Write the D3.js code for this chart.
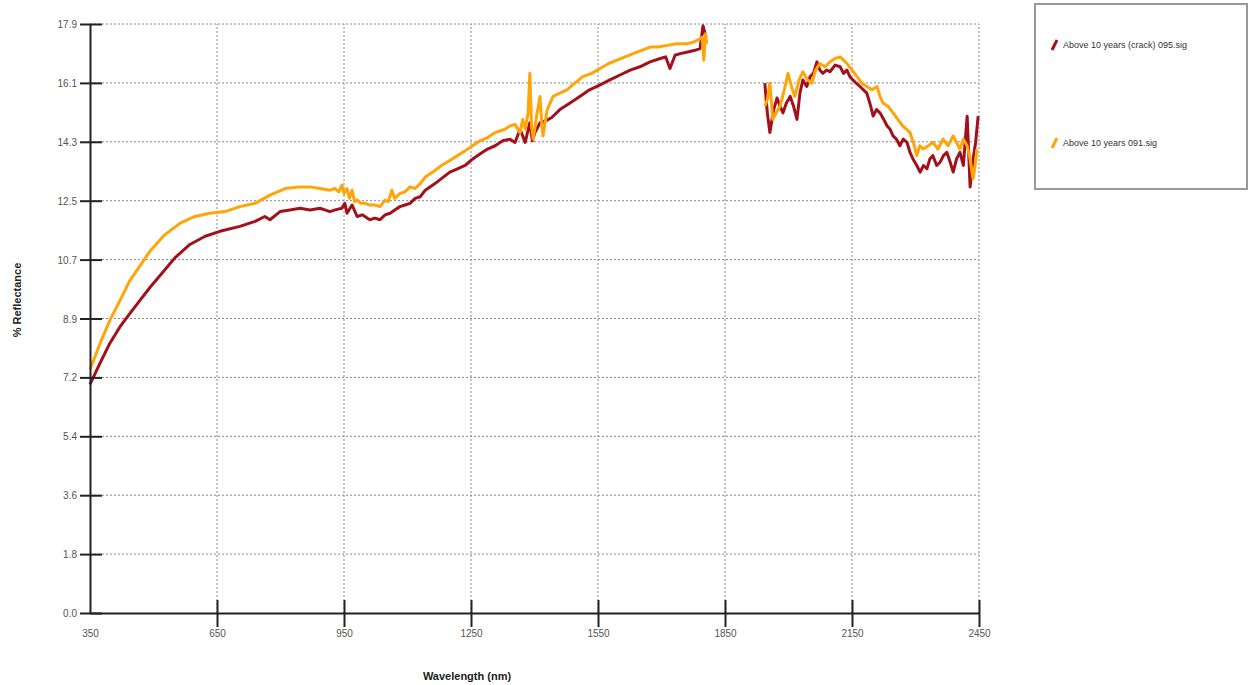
<!DOCTYPE html>
<html lang="en">
<head>
<meta charset="UTF-8">
<title>Reflectance spectra</title>
<script src="https://d3js.org/d3.v7.min.js"></script>
<style>
    body { margin: 0; background: #fff; font-family: "Liberation Sans", Arial, sans-serif; }
    #chart { width: 1251px; height: 685px; }
    .tick-label { font-size: 10px; fill: #555; }
    .grid line { stroke: #888; stroke-dasharray: 2,2; }
</style>
</head>
<body>
<div id="chart"></div>
<script>
    // axis ticks
    const xTicks = [350, 650, 950, 1250, 1550, 1850, 2150, 2450];
    const yTicks = [0.0, 1.79, 3.58, 5.37, 7.16, 8.95, 10.74, 12.53, 14.32, 16.11, 17.9];
    const yTickLabels = ["0.0", "1.8", "3.6", "5.4", "7.2", "8.9", "10.7", "12.5", "14.3", "16.1", "17.9"];

    const seriesNames = ["Above 10 years (crack) 095.sig", "Above 10 years 091.sig"];

    // wavelength (nm) and % reflectance, null marks the removed band
    const crackNm = [350, 374, 397, 421, 444, 468, 492, 515, 551, 586, 622, 657, 704, 740, 763, 775, 799, 822, 846, 870, 893, 917, 929, 945, 952, 957, 969, 981, 993, 1011, 1023, 1035, 1047, 1059, 1070, 1082, 1094, 1106, 1118, 1130, 1142, 1165, 1180, 1200, 1218, 1236, 1254, 1271, 1289, 1307, 1325, 1342, 1354, 1366, 1378, 1389, 1395, 1401, 1413, 1425, 1440, 1460, 1484, 1507, 1530, 1555, 1578, 1602, 1626, 1649, 1673, 1697, 1710, 1720, 1732, 1744, 1762, 1779, 1791, 1798, 1805,
        1850,
        1944, 1950, 1956, 1965, 1973, 1980, 1987, 1995, 2004, 2012, 2020, 2027, 2034, 2043, 2051, 2059, 2067, 2074, 2081, 2090, 2098, 2110, 2122, 2130, 2138, 2145, 2152, 2160, 2169, 2177, 2185, 2192, 2200, 2208, 2216, 2225, 2233, 2240, 2247, 2255, 2263, 2271, 2280, 2287, 2294, 2303, 2311, 2319, 2327, 2334, 2341, 2350, 2358, 2366, 2374, 2382, 2389, 2397, 2405, 2413, 2422, 2429, 2436, 2442, 2448];
    const crackVal = [6.95, 7.6, 8.2, 8.7, 9.1, 9.5, 9.9, 10.25, 10.8, 11.2, 11.45, 11.6, 11.75, 11.9, 12.05, 11.95, 12.2, 12.25, 12.3, 12.25, 12.3, 12.2, 12.25, 12.3, 12.45, 12.15, 12.4, 12.05, 12.1, 11.95, 12.0, 11.95, 12.1, 12.15, 12.25, 12.35, 12.4, 12.45, 12.6, 12.65, 12.85, 13.05, 13.2, 13.4, 13.5, 13.6, 13.8, 13.95, 14.1, 14.2, 14.35, 14.4, 14.3, 14.7, 14.3, 14.9, 14.35, 14.6, 14.9, 14.95, 15.05, 15.3, 15.5, 15.7, 15.9, 16.05, 16.2, 16.35, 16.5, 16.6, 16.75, 16.85, 16.9, 16.55, 16.95, 17.0, 17.05, 17.1, 17.15, 17.85, 17.5,
        null,
        16.1, 15.2, 14.6, 15.3, 15.65, 15.4, 15.2, 15.5, 15.7, 15.4, 15.0, 15.8, 16.2, 16.0, 16.3, 16.4, 16.75, 16.5, 16.4, 16.5, 16.45, 16.65, 16.6, 16.4, 16.5, 16.3, 16.2, 16.1, 16.0, 15.9, 15.8, 15.5, 15.1, 15.3, 15.2, 15.0, 14.8, 14.7, 14.5, 14.4, 14.2, 14.4, 14.3, 14.0, 13.8, 13.6, 13.4, 13.6, 13.5, 13.8, 13.9, 13.6, 13.7, 13.9, 14.0, 13.7, 13.4, 13.8, 14.0, 13.6, 15.1, 12.95, 13.8, 14.3, 15.1];

    const oldNm = [350, 374, 397, 421, 444, 468, 492, 527, 563, 598, 633, 669, 704, 740, 775, 811, 846, 870, 893, 917, 929, 938, 945, 950, 957, 963, 969, 975, 981, 990, 1000, 1011, 1023, 1035, 1047, 1055, 1063, 1070, 1082, 1094, 1106, 1118, 1130, 1142, 1165, 1180, 1200, 1218, 1236, 1254, 1271, 1289, 1307, 1330, 1342, 1354, 1366, 1372, 1378, 1385, 1389, 1393, 1397, 1405, 1413, 1417, 1420, 1430, 1444, 1460, 1477, 1495, 1514, 1535, 1555, 1575, 1595, 1614, 1633, 1653, 1673, 1693, 1713, 1737, 1760, 1775, 1784, 1796, 1800, 1804, 1807,
        1850,
        1944, 1950, 1956, 1963, 1971, 1980, 1990, 1999, 2007, 2015, 2025, 2034, 2045, 2055, 2064, 2074, 2086, 2098, 2110, 2122, 2130, 2138, 2150, 2162, 2173, 2185, 2197, 2209, 2216, 2223, 2235, 2247, 2258, 2270, 2279, 2287, 2295, 2303, 2310, 2318, 2330, 2341, 2353, 2365, 2377, 2389, 2397, 2405, 2413, 2422, 2429, 2436, 2441, 2445];
    const oldVal = [7.4, 8.2, 8.9, 9.5, 10.1, 10.55, 11.0, 11.5, 11.85, 12.05, 12.15, 12.2, 12.35, 12.45, 12.7, 12.9, 12.95, 12.95, 12.9, 12.85, 12.9, 12.8, 13.0, 12.75, 12.9, 12.6, 12.85, 12.5, 12.55, 12.45, 12.45, 12.4, 12.4, 12.35, 12.55, 12.5, 12.85, 12.6, 12.75, 12.8, 12.95, 12.9, 13.05, 13.25, 13.45, 13.6, 13.75, 13.9, 14.05, 14.2, 14.35, 14.45, 14.6, 14.7, 14.8, 14.85, 14.6, 15.0, 14.7, 15.2, 16.4, 14.8, 14.4, 15.1, 15.7, 14.9, 14.5, 15.3, 15.7, 15.8, 15.9, 16.1, 16.3, 16.4, 16.55, 16.7, 16.8, 16.9, 17.0, 17.1, 17.2, 17.2, 17.25, 17.3, 17.3, 17.35, 17.4, 17.5, 16.8, 17.6, 17.3,
        null,
        15.4, 15.6, 16.1, 15.0, 15.2, 15.4, 15.9, 16.4, 16.0, 15.7, 16.2, 16.45, 16.2, 16.1, 16.5, 16.7, 16.6, 16.75, 16.85, 16.9, 16.8, 16.7, 16.5, 16.3, 16.1, 16.0, 15.9, 16.0, 15.7, 15.5, 15.4, 15.2, 15.0, 14.8, 14.7, 14.6, 14.3, 13.9, 14.2, 14.1, 14.2, 14.3, 14.1, 14.4, 14.2, 14.5, 14.3, 14.1, 14.4, 14.2, 13.8, 13.2, 13.6, 14.1];

    const colors = ["#a2111b", "#ffa50a"];

    const margin = { left: 90, top: 24, right: 272, bottom: 72 };
    const width = 1251, height = 685;

    const svg = d3.select("#chart").append("svg")
        .attr("width", width)
        .attr("height", height);

    const x = d3.scaleLinear().domain([350, 2450]).range([margin.left, width - margin.right]);
    const y = d3.scaleLinear().domain([0, 17.9]).range([height - margin.bottom, margin.top]);

    // grid
    const grid = svg.append("g").attr("class", "grid");
    grid.selectAll(".hg").data(yTicks.slice(1)).enter().append("line")
        .attr("x1", x(350)).attr("x2", x(2450))
        .attr("y1", d => y(d)).attr("y2", d => y(d));
    grid.selectAll(".vg").data(xTicks.slice(1)).enter().append("line")
        .attr("x1", d => x(d)).attr("x2", d => x(d))
        .attr("y1", y(0)).attr("y2", y(17.9));

    // series
    const series = [
        crackNm.map((d, i) => [d, crackVal[i]]),
        oldNm.map((d, i) => [d, oldVal[i]])
    ];
    const line = d3.line()
        .defined(d => d[1] !== null)
        .x(d => x(d[0]))
        .y(d => y(d[1]));

    svg.selectAll(".series").data(series).enter().append("path")
        .attr("d", line)
        .attr("fill", "none")
        .attr("stroke", (d, i) => colors[i])
        .attr("stroke-width", 3)
        .attr("stroke-linejoin", "round");

    // axes
    const yAxis = d3.axisLeft(y).tickValues(yTicks).tickSize(0).tickFormat((d, i) => yTickLabels[i]);
    const yg = svg.append("g").attr("transform", `translate(${x(350)},0)`).call(yAxis);
    yg.select(".domain").attr("stroke", "#222").attr("stroke-width", 2);
    yg.selectAll(".tick text").attr("class", "tick-label").attr("x", -13).attr("dy", "0.35em");
    yg.selectAll(".tick").append("line").attr("x1", -10).attr("x2", 12)
        .attr("stroke", "#222").attr("stroke-width", 2);

    const xAxis = d3.axisBottom(x).tickValues(xTicks).tickSize(0).tickFormat(d3.format("d"));
    const xg = svg.append("g").attr("transform", `translate(0,${y(0)})`).call(xAxis);
    xg.select(".domain").attr("stroke", "#222").attr("stroke-width", 2);
    xg.selectAll(".tick text").attr("class", "tick-label").attr("y", 20).attr("dy", "0.35em");
    xg.selectAll(".tick").filter(d => d !== 350).append("line").attr("y1", -13).attr("y2", 14)
        .attr("stroke", "#222").attr("stroke-width", 2);

    // axis titles
    svg.append("text")
        .attr("x", 467).attr("y", 680)
        .attr("text-anchor", "middle")
        .attr("font-size", 11).attr("font-weight", "bold").attr("fill", "#222")
        .text("Wavelength (nm)");
    svg.append("text")
        .attr("transform", "translate(21,300) rotate(-90)")
        .attr("text-anchor", "middle")
        .attr("font-size", 11).attr("font-weight", "bold").attr("fill", "#222")
        .text("% Reflectance");

    // legend
    const legend = svg.append("g");
    legend.append("rect")
        .attr("x", 1035).attr("y", 4).attr("width", 212).attr("height", 185)
        .attr("fill", "#fff").attr("stroke", "#999").attr("stroke-width", 2);
    const items = legend.selectAll(".item").data(seriesNames).enter().append("g")
        .attr("transform", (d, i) => `translate(1052,${45 + i * 98})`);
    items.append("line")
        .attr("x1", 0).attr("y1", 5).attr("x2", 5).attr("y2", -5)
        .attr("stroke", (d, i) => colors[i]).attr("stroke-width", 3);
    items.append("text")
        .attr("x", 11).attr("y", 0).attr("dy", "0.35em")
        .attr("font-size", 9).attr("fill", "#333")
        .text(d => d);
</script>
</body>
</html>
